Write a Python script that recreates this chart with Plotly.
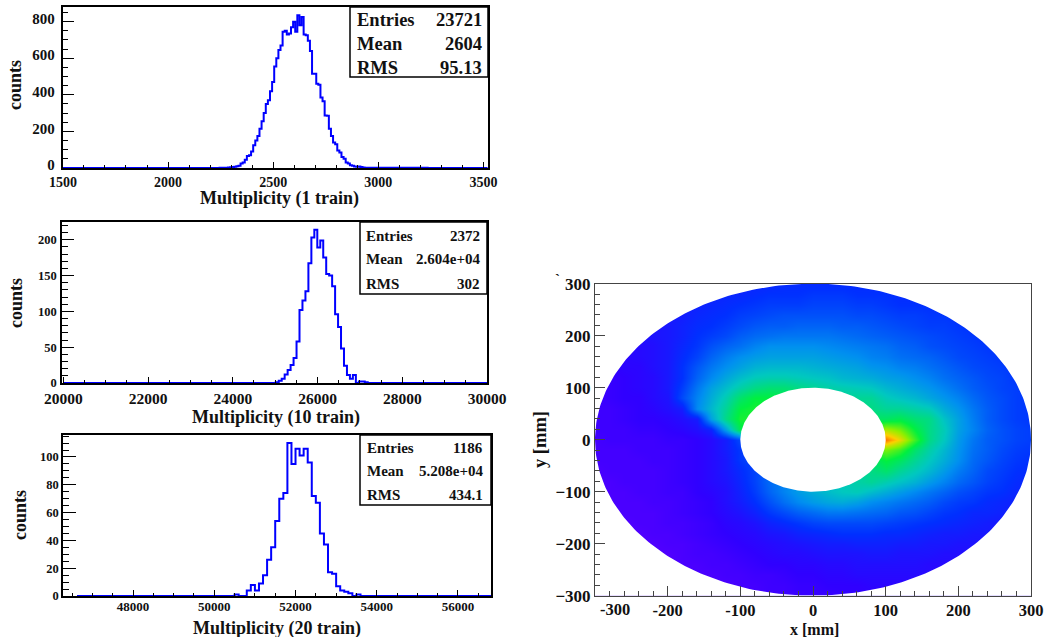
import numpy as np
import plotly.graph_objects as go

W, H = 1045, 637
FONT = "Liberation Serif"

# ---- histogram data (bin centre, counts) ----
h1_x = [1500, 2240, 2250, 2260, 2270, 2280, 2290, 2300, 2310, 2320, 2330, 2340, 2350, 2360, 2370, 2380, 2390, 2400,
        2410, 2420, 2430, 2440, 2450, 2460, 2470, 2480, 2490, 2500, 2510, 2520, 2530, 2540, 2550, 2560, 2570, 2580,
        2590, 2600, 2610, 2620, 2630, 2640, 2650, 2660, 2670, 2680, 2690, 2700, 2710, 2720, 2730, 2740, 2750, 2760,
        2770, 2780, 2790, 2800, 2810, 2820, 2830, 2840, 2850, 2860, 2870, 2880, 2890, 2900, 2910, 2920, 2930, 2940,
        2950, 3520]
h1_y = [0, 0, 1, 1, 2, 1, 3, 4, 6, 7, 9, 12, 25, 30, 45, 65, 70, 90,
        125, 150, 175, 215, 255, 300, 350, 370, 420, 470, 555, 600, 645, 670, 745, 750, 730, 735,
        770, 800, 745, 835, 780, 825, 730, 725, 695, 640, 515, 515, 460, 455, 385, 365, 287, 285,
        215, 175, 140, 130, 95, 85, 60, 50, 30, 25, 15, 12, 8, 7, 8, 5, 3, 2, 1, 0]

h2_x = [20000, 24980, 25050, 25120, 25190, 25260, 25330, 25400, 25470, 25540, 25610, 25680, 25750, 25820, 25890,
        25960, 26030, 26100, 26170, 26240, 26310, 26380, 26450, 26520, 26590, 26660, 26730, 26800, 26870, 26940,
        27010, 27080, 27150, 27220, 30000]
h2_y = [0, 0, 1, 3, 6, 12, 18, 25, 35, 58, 102, 115, 128, 167, 203,
        214, 189, 199, 175, 152, 150, 135, 96, 78, 48, 24, 11, 6, 11, 0,
        2, 2, 1, 0, 0]

h3_x = [46620, 50450, 50550, 50650, 50750, 50850, 50950, 51050, 51150, 51250, 51350, 51450, 51550, 51650, 51750,
        51850, 51950, 52050, 52150, 52250, 52350, 52450, 52550, 52650, 52750, 52850, 52950, 53050, 53150, 53250,
        53350, 53450, 53550, 53650, 56813]
h3_y = [0, 0, 1, 0, 0, 4, 8, 4, 9, 15, 26, 35, 54, 70, 74,
        110, 95, 106, 101, 106, 96, 72, 67, 45, 37, 17, 16, 7, 4, 3,
        2, 0, 1, 0, 0]

# ---- stats tables ----
stats1 = [("Entries", "23721"), ("Mean", "2604"), ("RMS", "95.13")]
stats2 = [("Entries", "2372"), ("Mean", "2.604e+04"), ("RMS", "302")]
stats3 = [("Entries", "1186"), ("Mean", "5.208e+04"), ("RMS", "434.1")]

# ---- 2D map: colour level, 20 mm grid ----
map_x = list(range(-300, 301, 20))
map_y = list(range(300, -301, -20))
map_z = [
 [14,14,14,14,14,14,15,15,16,17,17,18,18,19,19,19,19,19,19,19,19,18,18,18,18,18,18,18,18,18,18],
 [14,14,14,14,14,15,15,16,17,18,18,19,20,20,20,21,21,21,20,20,20,19,19,19,19,19,19,18,18,18,18],
 [13,13,13,14,14,15,16,17,18,19,20,21,22,22,22,23,23,23,22,22,21,20,20,20,20,19,19,19,18,18,18],
 [12,12,13,13,14,15,16,18,19,20,22,23,24,25,25,25,25,25,24,24,23,22,22,21,21,20,20,19,19,18,18],
 [11,12,12,13,14,15,17,19,20,22,24,26,27,27,28,28,28,27,27,26,25,24,23,22,22,21,20,20,19,19,18],
 [11,11,12,13,14,15,17,20,22,24,27,29,30,31,31,31,31,30,29,28,27,26,25,24,23,22,21,20,20,19,19],
 [10,11,11,12,13,15,18,21,25,28,30,33,35,35,35,35,34,33,32,31,30,28,27,25,24,23,22,21,20,20,19],
 [10,10,11,12,13,15,19,23,28,32,35,37,38,38,38,38,37,36,35,33,32,30,29,28,26,24,23,22,21,20,20],
 [9,10,11,11,13,15,20,26,31,35,38,41,42,42,42,41,40,39,38,36,35,33,32,30,28,26,24,23,22,21,20],
 [9,9,10,11,12,15,20,28,34,39,43,46,47,47,46,45,44,42,41,40,38,37,35,33,30,28,26,24,23,21,20],
 [8,9,10,11,12,15,22,31,38,43,48,52,54,54,52,50,48,47,46,45,42,40,38,36,33,30,27,25,23,22,21],
 [8,9,10,10,12,14,24,33,40,47,55,60,60,58,55,52,50,50,50,50,46,44,42,39,36,33,29,26,24,22,21],
 [8,8,9,10,11,13,16,34,42,50,60,62,60,58,55,52,52,52,52,52,50,50,48,46,40,36,31,27,24,22,21],
 [8,8,9,10,10,11,13,16,38,52,62,62,60,58,56,56,56,56,56,56,56,58,54,52,44,38,32,27,24,22,21],
 [8,8,8,9,9,10,11,13,17,38,58,62,62,60,60,60,60,60,60,64,75,70,60,52,46,38,33,28,25,23,22],
 [7,8,8,8,8,9,9,10,12,16,24,30,35,40,45,50,55,60,70,80,90,80,65,52,45,37,31,27,25,23,22],
 [7,7,7,8,8,8,9,10,12,16,21,24,28,32,38,44,50,56,60,65,70,65,55,48,42,36,30,27,24,22,21],
 [7,7,7,7,8,8,9,10,12,15,21,24,26,30,34,38,42,46,50,55,60,56,50,45,40,35,29,26,23,21,20],
 [6,7,7,7,7,8,9,10,12,15,19,23,28,31,34,37,40,44,48,52,55,50,46,42,37,32,28,24,22,20,19],
 [6,6,7,7,7,8,9,10,12,14,18,23,29,33,36,39,42,46,48,50,47,44,41,37,33,29,26,23,21,19,18],
 [6,6,6,7,7,8,8,10,11,13,17,22,28,33,37,40,43,45,46,43,40,37,34,31,28,25,23,21,20,18,18],
 [5,6,6,6,7,7,8,9,10,13,16,20,25,30,34,37,39,40,38,35,33,31,29,27,24,22,21,19,18,17,17],
 [5,5,6,6,6,7,8,9,10,12,14,17,21,24,27,29,31,31,30,29,28,26,25,23,21,20,18,18,17,16,16],
 [5,5,5,6,6,7,7,8,9,11,12,14,17,19,21,23,24,24,24,24,23,22,21,20,19,18,17,16,15,15,15],
 [5,5,5,5,6,6,7,8,9,10,11,12,14,15,17,18,19,20,20,20,19,19,18,17,16,16,15,15,14,14,14],
 [4,5,5,5,5,6,6,7,8,9,10,11,12,13,14,15,16,16,17,17,17,16,16,15,15,14,14,13,13,13,13],
 [4,4,5,5,5,5,6,7,7,8,9,10,11,12,12,13,14,14,14,15,15,14,14,14,13,13,13,12,12,12,12],
 [4,4,4,5,5,5,6,6,7,7,8,9,10,10,11,11,12,12,13,13,13,13,13,12,12,12,12,12,11,11,11],
 [4,4,4,4,5,5,5,6,6,7,7,8,8,9,10,10,11,11,12,12,12,12,12,12,11,11,11,11,11,11,11],
 [4,4,4,4,4,5,5,5,6,6,7,7,8,8,9,9,10,10,10,11,11,11,11,11,11,11,11,11,10,10,10],
 [4,4,4,4,4,5,5,5,6,6,7,7,8,8,9,9,9,10,10,10,10,10,10,10,10,10,10,10,10,10,10],
]
R_OUT, R_IN = 300, 100
map_colors = [[0, "#7000ff"], [0.1, "#3000ff"], [0.2, "#0030ff"], [0.35, "#0090f0"], [0.45, "#00c8c0"],
              [0.6, "#00f040"], [0.72, "#90f000"], [0.82, "#ffd000"], [0.92, "#ff6000"], [1, "#ff0000"]]


def xd(l, r):
    return [l / W, r / W]


def yd(t, b):
    return [1 - b / H, 1 - t / H]


def axis(domain, rng, dtick, minor, major_len, minor_len, size, lw=1.5, color="black", **kw):
    d = dict(domain=domain, range=rng, dtick=dtick, tick0=0, ticks="inside", ticklen=major_len, tickwidth=1,
             tickcolor=color, showline=True, linecolor=color, linewidth=lw, mirror=True, showgrid=False,
             zeroline=False, layer="above traces", automargin=False, tickformat="d",
             tickprefix="<b>", ticksuffix="</b>",
             tickfont=dict(family=FONT, size=size, color="#111111"),
             minor=dict(dtick=minor, ticks="inside", ticklen=minor_len, tickwidth=1, tickcolor=color, tick0=0,
                        showgrid=False))
    d.update(kw)
    return d


fig = go.Figure()
for i, (hx, hy) in enumerate([(h1_x, h1_y), (h2_x, h2_y), (h3_x, h3_y)]):
    s = "" if i == 0 else str(i + 1)
    fig.add_trace(go.Scatter(x=hx, y=hy, mode="lines", line=dict(color="#0000ff", width=2, shape="hvh"),
                             xaxis="x" + s, yaxis="y" + s, showlegend=False, hoverinfo="skip"))

fig.add_trace(go.Heatmap(x=map_x, y=map_y, z=map_z, zmin=0, zmax=100, colorscale=map_colors, zsmooth="best",
                         showscale=False, xaxis="x4", yaxis="y4", hoverinfo="skip"))

# white masks that cut the annulus out of the map
t = np.linspace(0, 2 * np.pi, 361)
mx = [320, 320, -320, -320, 320, 320] + list(R_OUT * np.cos(-t)) + [320]
my = [0, 320, 320, -320, -320, 0] + list(R_OUT * np.sin(-t)) + [0]
fig.add_trace(go.Scatter(x=mx, y=my, mode="lines", line=dict(width=0), fill="toself", fillcolor="white",
                         xaxis="x4", yaxis="y4", showlegend=False, hoverinfo="skip"))
fig.add_trace(go.Scatter(x=list(R_IN * np.cos(t)), y=list(R_IN * np.sin(t)), mode="lines", line=dict(width=0),
                         fill="toself", fillcolor="white", xaxis="x4", yaxis="y4", showlegend=False,
                         hoverinfo="skip"))

map_ticks = [-300, -200, -100, 0, 100, 200, 300]
layout = dict(
    template=None,
    width=W, height=H, margin=dict(l=0, r=0, t=0, b=0, pad=0), paper_bgcolor="white", plot_bgcolor="white",
    showlegend=False, font=dict(family=FONT),
    xaxis=axis(xd(62.5, 488), [1498, 3522], 500, 100, 6, 3, 14, ticklabelstandoff=0),
    yaxis=axis(yd(7, 168), [0, 880], 200, 50, 12, 6, 15, ticklabelstandoff=3, ticklabelshift=-3),
    xaxis2=axis(xd(62, 487), [19970, 30000], 2000, 500, 6, 3, 15.5, anchor="y2", ticklabelstandoff=1),
    yaxis2=axis(yd(222, 383), [0, 224.7], 50, 10, 12, 6, 12.5, anchor="x2", ticklabelstandoff=1),
    xaxis3=axis(xd(63, 491), [46275, 56813], 2000, 500, 6, 3, 13, anchor="y3", ticklabelstandoff=-2),
    yaxis3=axis(yd(435, 596), [0, 115.8], 20, 5, 13, 6.5, 12.5, anchor="x3"),
    xaxis4=axis(xd(595, 1031), [-300, 300], 100, 20, 10, 5, 16.5, lw=1, color="#444444", anchor="y4",
                ticklabelstandoff=-1, tickmode="array", tickvals=map_ticks,
                ticktext=["", "<b>-200</b>", "<b>-100</b>", "<b>0</b>", "<b>100</b>", "<b>200</b>", "<b>300</b>"]),
    yaxis4=axis(yd(283.7, 595.7), [-300, 300], 100, 20, 10, 5, 17, lw=1, color="#444444", anchor="x4"),
)

annotations = []
shapes = []


def text(x, y, s, size, anchor="center", angle=0):
    annotations.append(dict(x=x / W, y=1 - y / H, xref="paper", yref="paper", text="<b>%s</b>" % s, showarrow=False,
                            xanchor=anchor, yanchor="middle", textangle=angle, borderpad=0, borderwidth=0,
                            font=dict(family=FONT, size=size, color="#111111")))


def box(x0, y0, x1, y1, rows, ys, lx, rx, size):
    shapes.append(dict(type="rect", xref="paper", yref="paper", x0=x0 / W, x1=x1 / W, y0=1 - y0 / H, y1=1 - y1 / H,
                       line=dict(color="black", width=1.5), fillcolor="white", layer="above"))
    for (a, b), y in zip(rows, ys):
        text(lx, y, a, size, "left")
        text(rx, y, b, size, "right")


box(350, 7, 488, 77, stats1, [20, 44, 68], 356.5, 482, 18.5)
box(360, 222, 487, 294, stats2, [236, 259, 284], 366, 480, 15)
box(360, 435, 491, 505, stats3, [448, 471, 495], 367, 483, 15)

text(279, 199, "Multiplicity (1 train)", 18)
text(276, 417, "Multiplicity (10 train)", 18)
text(277, 628, "Multiplicity (20 train)", 18)
text(15, 85, "counts", 18, angle=-90)
text(16, 303, "counts", 18, angle=-90)
text(20, 515, "counts", 18, angle=-90)
text(615, 609, "-300", 16.5)
text(814, 629, "x [mm]", 16)
text(540, 440, "y [mm]", 18.5, angle=-90)
text(557, 279, "`", 15)

layout["annotations"] = annotations
layout["shapes"] = shapes
fig.update_layout(**layout)
fig.write_html("out.html", config=dict(displayModeBar=False),
               post_script="document.body.style.margin='0';document.body.style.overflow='hidden';")
